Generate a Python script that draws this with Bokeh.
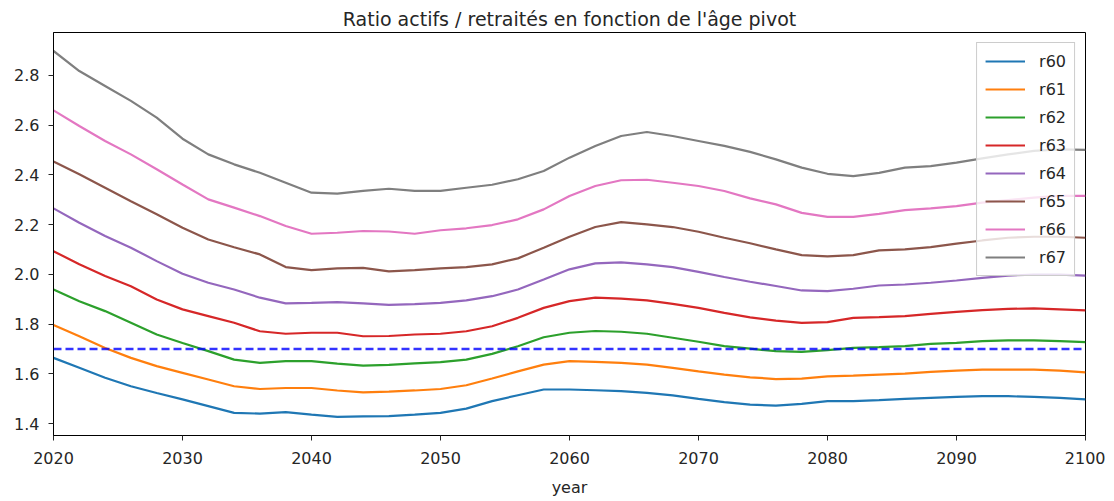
from bokeh.plotting import figure
from bokeh.models import FixedTicker, NumeralTickFormatter, Legend, LegendItem, Range1d, Span
from bokeh.embed import file_html
from bokeh.resources import INLINE

years = list(range(2020, 2101, 2))

r60 = [1.664, 1.624, 1.584, 1.55, 1.523, 1.497, 1.47, 1.443, 1.44, 1.446, 1.436, 1.427, 1.429, 1.43, 1.436,
       1.443, 1.46, 1.49, 1.514, 1.537, 1.537, 1.534, 1.53, 1.523, 1.513, 1.499, 1.486, 1.476, 1.472, 1.479,
       1.49, 1.49, 1.494, 1.499, 1.503, 1.507, 1.51, 1.51, 1.507, 1.503, 1.497]
r61 = [1.796, 1.751, 1.704, 1.664, 1.631, 1.604, 1.577, 1.55, 1.539, 1.543, 1.543, 1.533, 1.525, 1.528, 1.533,
       1.539, 1.554, 1.581, 1.61, 1.637, 1.651, 1.648, 1.644, 1.637, 1.624, 1.61, 1.597, 1.586, 1.579, 1.581,
       1.59, 1.593, 1.597, 1.601, 1.608, 1.613, 1.617, 1.617, 1.617, 1.613, 1.606]
r62 = [1.939, 1.892, 1.852, 1.805, 1.758, 1.724, 1.691, 1.657, 1.644, 1.651, 1.651, 1.641, 1.633, 1.636, 1.642,
       1.647, 1.657, 1.68, 1.711, 1.747, 1.765, 1.772, 1.769, 1.761, 1.745, 1.729, 1.711, 1.701, 1.691, 1.688,
       1.695, 1.704, 1.707, 1.711, 1.72, 1.724, 1.731, 1.734, 1.734, 1.731, 1.727]
r63 = [2.093, 2.04, 1.993, 1.952, 1.899, 1.859, 1.832, 1.805, 1.771, 1.761, 1.765, 1.765, 1.751, 1.752, 1.758,
       1.761, 1.771, 1.791, 1.825, 1.865, 1.892, 1.906, 1.902, 1.895, 1.881, 1.865, 1.845, 1.827, 1.814, 1.805,
       1.808, 1.825, 1.828, 1.832, 1.841, 1.849, 1.856, 1.861, 1.863, 1.859, 1.855]
r64 = [2.265, 2.207, 2.154, 2.107, 2.053, 2.002, 1.966, 1.939, 1.906, 1.883, 1.885, 1.888, 1.883, 1.877, 1.88,
       1.885, 1.895, 1.912, 1.939, 1.979, 2.02, 2.044, 2.048, 2.04, 2.029, 2.01, 1.989, 1.97, 1.953, 1.935,
       1.932, 1.942, 1.955, 1.959, 1.966, 1.975, 1.986, 1.995, 1.999, 1.999, 1.995]
r65 = [2.453, 2.402, 2.348, 2.294, 2.241, 2.187, 2.14, 2.109, 2.08, 2.029, 2.017, 2.024, 2.026, 2.012, 2.017,
       2.024, 2.029, 2.04, 2.064, 2.107, 2.151, 2.19, 2.21, 2.201, 2.19, 2.171, 2.147, 2.125, 2.1, 2.077,
       2.072, 2.077, 2.096, 2.1, 2.109, 2.123, 2.136, 2.147, 2.151, 2.151, 2.147]
r66 = [2.659, 2.596, 2.536, 2.482, 2.422, 2.361, 2.301, 2.268, 2.234, 2.194, 2.163, 2.167, 2.174, 2.172, 2.163,
       2.177, 2.185, 2.198, 2.221, 2.261, 2.315, 2.355, 2.378, 2.38, 2.368, 2.355, 2.335, 2.305, 2.281, 2.247,
       2.231, 2.231, 2.243, 2.258, 2.265, 2.274, 2.288, 2.298, 2.308, 2.315, 2.315]
r67 = [2.898, 2.817, 2.757, 2.697, 2.63, 2.545, 2.482, 2.442, 2.408, 2.368, 2.328, 2.324, 2.335, 2.344, 2.335,
       2.335, 2.348, 2.36, 2.382, 2.415, 2.469, 2.516, 2.556, 2.572, 2.556, 2.536, 2.516, 2.492, 2.462, 2.429,
       2.404, 2.395, 2.408, 2.429, 2.435, 2.449, 2.466, 2.482, 2.496, 2.502, 2.5]

series_names = ["r60", "r61", "r62", "r63", "r64", "r65", "r66", "r67"]
series_values = [r60, r61, r62, r63, r64, r65, r66, r67]
colors = ["#1f77b4", "#ff7f0e", "#2ca02c", "#d62728", "#9467bd", "#8c564b", "#e377c2", "#7f7f7f"]
threshold = 1.7

x_ticks = [2020, 2030, 2040, 2050, 2060, 2070, 2080, 2090, 2100]
y_ticks = [1.4, 1.6, 1.8, 2.0, 2.2, 2.4, 2.6, 2.8]

FONT = "DejaVu Sans"
TXT = "#262626"

p = figure(frame_width=1032, frame_height=403, output_backend="svg", toolbar_location=None,
           x_range=Range1d(2020, 2100), y_range=Range1d(1.352, 2.972),
           title="Ratio actifs / retraités en fonction de l'âge pivot",
           min_border_left=53, min_border_right=20, min_border_top=32, min_border_bottom=50)

p.title.align = "center"
p.title.text_font = FONT
p.title.text_font_size = "19px"
p.title.text_font_style = "normal"
p.title.text_color = TXT
p.title.standoff = 6

p.grid.visible = False
p.outline_line_color = "black"
p.outline_line_alpha = 1.0
p.outline_line_width = 1
p.background_fill_color = "white"
p.border_fill_color = "white"

for ax in (p.xaxis[0], p.yaxis[0]):
    ax.major_label_text_font = FONT
    ax.major_label_text_font_size = "16px"
    ax.major_label_text_color = TXT
    ax.major_tick_out = 5
    ax.major_tick_in = 0
    ax.minor_tick_out = 0
    ax.minor_tick_in = 0
    ax.axis_line_color = "black"
    ax.major_tick_line_color = TXT

p.xaxis.ticker = FixedTicker(ticks=x_ticks)
p.yaxis.ticker = FixedTicker(ticks=y_ticks)
p.yaxis.formatter = NumeralTickFormatter(format="0.0")
p.xaxis.formatter = NumeralTickFormatter(format="0")
p.xaxis.axis_label = "year"
p.xaxis.axis_label_text_font = FONT
p.xaxis.axis_label_text_font_size = "16px"
p.xaxis.axis_label_text_font_style = "normal"
p.xaxis.axis_label_text_color = TXT
p.xaxis.axis_label_standoff = 11
p.xaxis.major_label_standoff = 11
p.yaxis.major_label_standoff = 9

items = []
for name, vals, c in zip(series_names, series_values, colors):
    r = p.line(years, vals, line_color=c, line_width=2.2)
    items.append(LegendItem(label=name, renderers=[r]))

p.add_layout(Span(location=threshold, dimension="width", line_color="blue", line_alpha=0.8,
                  line_width=2.5, line_dash="8 4"))

legend = Legend(items=items, location="top_right")
legend.label_text_font = FONT
legend.label_text_font_size = "16px"
legend.label_text_color = TXT
legend.glyph_width = 40
legend.glyph_height = 20
legend.label_height = 20
legend.label_standoff = 14
legend.spacing = 8
legend.padding = 8
legend.margin = 10
legend.border_line_color = "#cccccc"
legend.border_line_alpha = 1.0
legend.background_fill_alpha = 0.8
p.add_layout(legend)

open("out.html", "w").write(file_html(p, INLINE))
